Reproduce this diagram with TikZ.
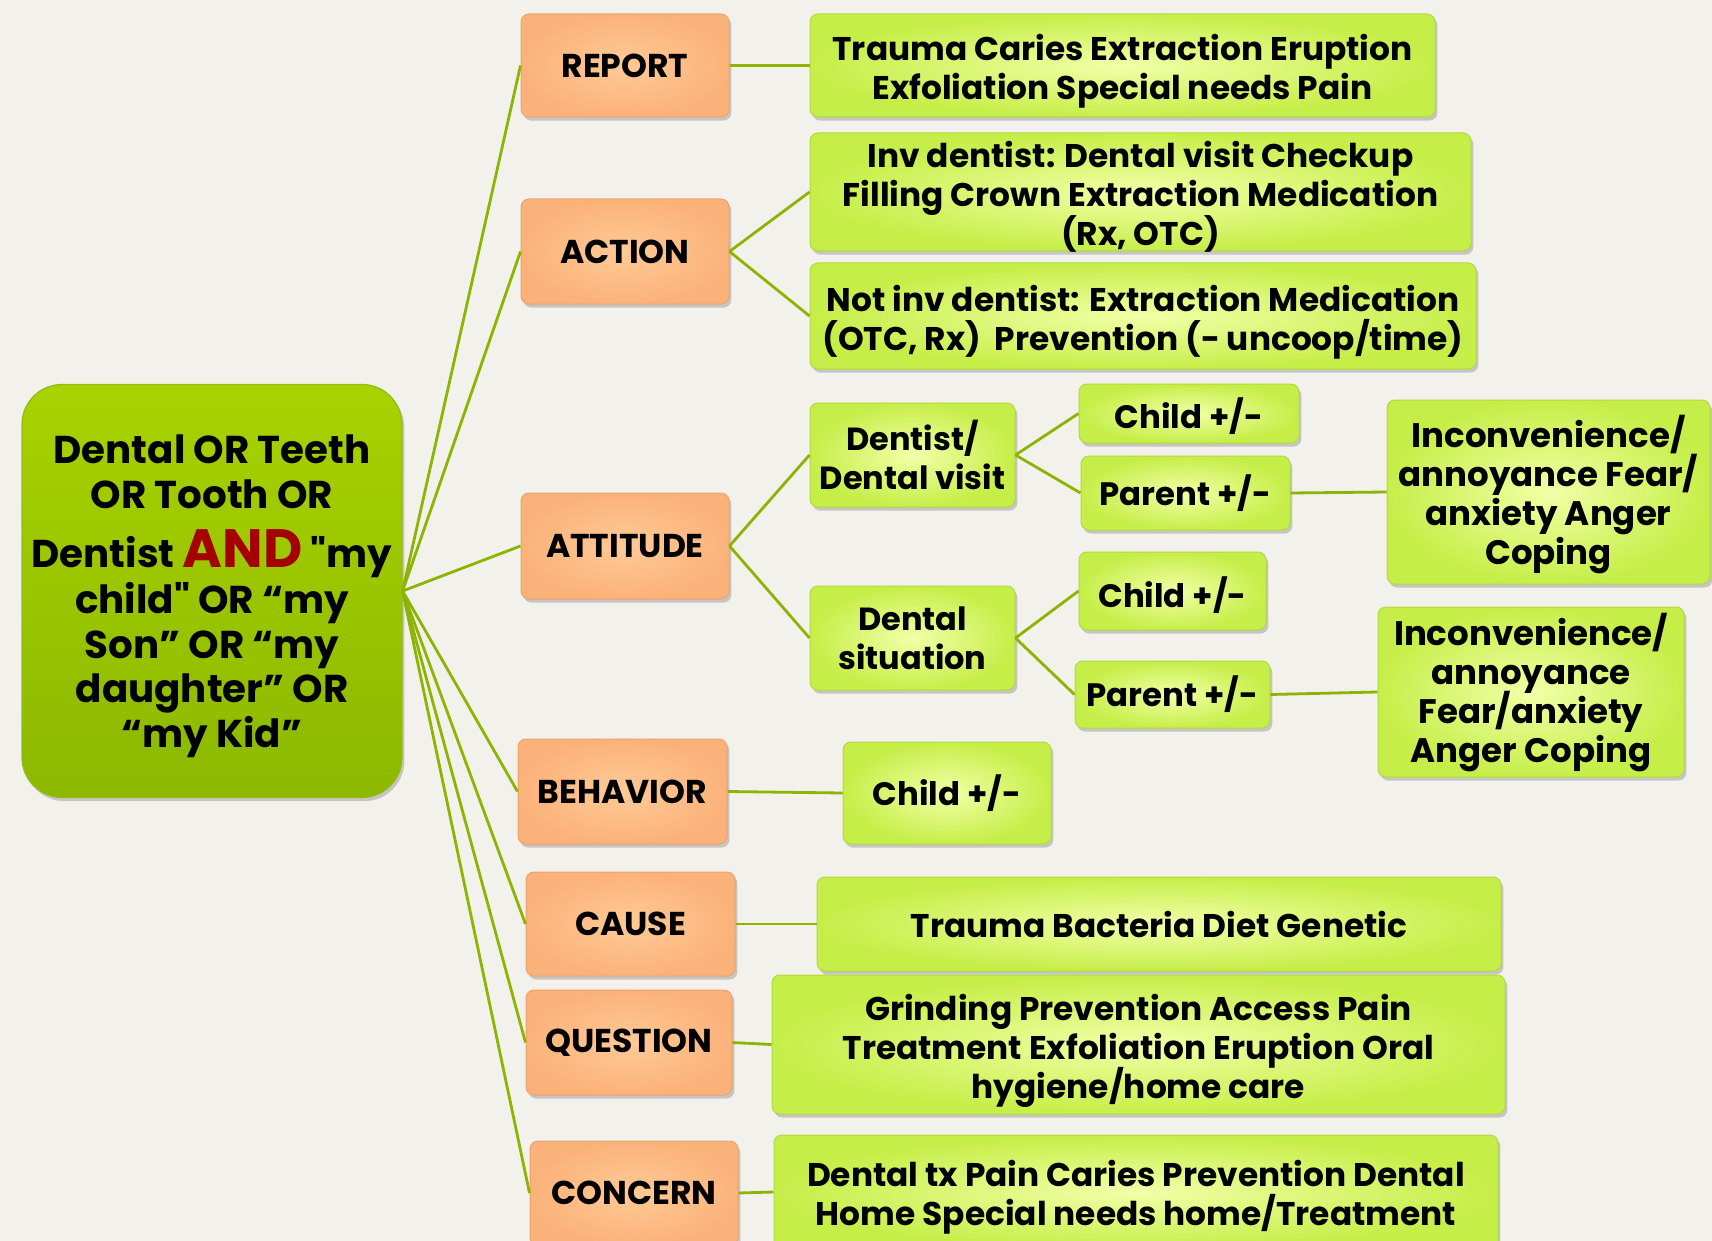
\documentclass[tikz,border=0pt]{standalone}
\usepackage{fontspec}
\setmainfont{Poppins}[Ligatures=TeXOff]
\usetikzlibrary{shadows}
\definecolor{bgc}{HTML}{F3F1EC}
\definecolor{orin}{HTML}{FFCA96}
\definecolor{orout}{HTML}{FBB27A}
\definecolor{oredge}{HTML}{E9A56C}
\definecolor{gin}{HTML}{F2FFA8}
\definecolor{gout}{HTML}{C6EE48}
\definecolor{gedge}{HTML}{B2D93E}
\definecolor{rtop}{HTML}{A8D200}
\definecolor{rbot}{HTML}{8CB800}
\definecolor{redge}{HTML}{93BD10}
\definecolor{conc}{HTML}{8CB400}
\definecolor{andred}{HTML}{A50000}
\begin{document}
\setlength{\lineskiplimit}{-20pt}
\begin{tikzpicture}[x=0.5pt,y=-0.5pt,
  shad/.style={drop shadow={shadow xshift=1.2pt,shadow yshift=-1.8pt,opacity=0.35,fill=black!55}},
  orangebox/.style={shad,draw=oredge,line width=0.5pt,rounded corners=4pt,inner color=orin,outer color=orout,
    inner sep=0pt,align=center,font=\bfseries\fontsize{16.5}{19.5}\selectfont},
  greenbox/.style={shad,draw=gedge,line width=0.5pt,rounded corners=4pt,inner color=gin,outer color=gout,
    inner sep=0pt,align=center,font=\bfseries\fontsize{16}{19.5}\selectfont},
  wide/.style={font=\bfseries\fontsize{16.4}{19.5}\selectfont},
  big/.style={font=\bfseries\fontsize{17}{19.5}\selectfont},
  small/.style={font=\bfseries\fontsize{16.2}{19.5}\selectfont},
  gtext/.style={inner sep=0pt,align=center,font=\bfseries\fontsize{16.4}{19.5}\selectfont},
  rootbox/.style={shad,draw=redge,line width=0.6pt,rounded corners=20pt,top color=rtop,bottom color=rbot},
  roottext/.style={inner sep=0pt,align=center,font=\bfseries\fontsize{19.4}{22.4}\selectfont},
  conn/.style={draw=conc,line width=1.4pt}]
\useasboundingbox (0,0) rectangle (1712,1241);
\clip (0,0) rectangle (1712,1241);
\fill[bgc] (0,0) rectangle (1712,1241);

% root
\node[rootbox,minimum width=190pt,minimum height=206.5pt] (root) at (212,591) {};
\node[roottext] (roott) at ([yshift=-2.8pt]root.center)
  {Dental OR Teeth\\OR Tooth OR\\[7pt]Dentist {\color{andred}\fontsize{27}{22.4}\selectfont AND} "my\\[0.5pt]child" OR “my\\Son” OR “my\\daughter” OR\\“my Kid”};

% orange level
\node[orangebox,minimum width=104pt,minimum height=51.5pt] (report) at (625,65.5) {REPORT};
\node[orangebox,minimum width=104pt,minimum height=52.5pt] (action) at (625,251.5) {ACTION};
\node[orangebox,minimum width=104pt,minimum height=53pt] (attitude) at (625,546) {ATTITUDE};
\node[orangebox,minimum width=104.5pt,minimum height=52.5pt] (behavior) at (622.5,791.5) {BEHAVIOR};
\node[orangebox,minimum width=104.5pt,minimum height=52pt] (cause) at (630.5,924) {CAUSE};
\node[orangebox,minimum width=103pt,minimum height=52.5pt] (question) at (629,1042.5) {QUESTION};
\node[orangebox,minimum width=104pt,minimum height=52pt] (concern) at (634,1193) {CONCERN};

% green level
\node[greenbox,minimum width=312.5pt,minimum height=51.5pt] (rep) at (1122.5,65.5) {};
\node[gtext] (rept) at ([yshift=-2.7pt]rep.center)
  {Trauma Caries Extraction Eruption\\Exfoliation Special needs Pain};
\node[greenbox,minimum width=330.5pt,minimum height=59pt] (inv) at (1140.5,192) {};
\node[gtext] (invt) at ([yshift=-2.2pt]inv.center)
  {Inv dentist: Dental visit Checkup\\Filling Crown Extraction Medication\\(Rx, OTC)};
\node[greenbox,minimum width=333pt,minimum height=53pt] (notinv) at (1143,316) {};
\node[gtext] (notinvt) at ([yshift=-3.2pt]notinv.center)
  {Not inv dentist: Extraction Medication\\(OTC, Rx)\ \ Prevention (- uncoop/time)};
\node[greenbox,minimum width=102.5pt,minimum height=52pt] (dv) at (912.5,455)
  {Dentist/\\Dental visit};
\node[greenbox,minimum width=110pt,minimum height=29.5pt] (c1) at (1189,413.5) {};
\node[gtext,small] (c1t) at ([yshift=-1.4pt]c1.center) {Child +/-};
\node[greenbox,small,minimum width=104.5pt,minimum height=37pt] (p1) at (1185.5,493) {Parent +/-};
\node[greenbox,minimum width=161.5pt,minimum height=92pt] (inc1) at (1548.5,492) {};
\node[gtext,big] (inc1t) at ([yshift=-1.5pt]inc1.center)
  {Inconvenience/\\annoyance Fear/\\anxiety Anger\\Coping};
\node[greenbox,minimum width=102.5pt,minimum height=52pt] (ds) at (912.5,638)
  {Dental\\situation};
\node[greenbox,minimum width=93.5pt,minimum height=39pt] (c2) at (1172.5,591) {};
\node[gtext,small] (c2t) at ([yshift=-2pt]c2.center) {Child +/-};
\node[greenbox,small,minimum width=97.5pt,minimum height=33.5pt] (p2) at (1172.5,694.5) {Parent +/-};
\node[greenbox,minimum width=153pt,minimum height=85pt] (inc2) at (1531,692) {};
\node[gtext,big] (inc2t) at ([yshift=-0.5pt]inc2.center)
  {Inconvenience/\\annoyance\\Fear/anxiety\\Anger Coping};
\node[greenbox,small,minimum width=104pt,minimum height=51pt] (bc) at (947,793) {Child +/-};
\node[greenbox,wide,minimum width=342pt,minimum height=47pt] (causet) at (1159,924)
  {Trauma Bacteria Diet Genetic};
\node[greenbox,minimum width=366.5pt,minimum height=69.5pt] (quest) at (1138.5,1044.5) {};
\node[gtext] (questt) at ([yshift=-3pt]quest.center)
  {Grinding Prevention Access Pain\\Treatment Exfoliation Eruption Oral\\hygiene/home care};
\node[greenbox,minimum width=362pt,minimum height=57pt] (conct) at (1136,1192) {};
\node[gtext] (conctt) at ([yshift=-2.5pt]conct.center)
  {Dental tx Pain Caries Prevention Dental\\Home Special needs home/Treatment};

% connectors
\foreach \n in {report,action,attitude,behavior,cause,question,concern}
  \draw[conn] (root.east) -- (\n.west);
\draw[conn] (report.east) -- (rep.west);
\draw[conn] (action.east) -- (inv.west);
\draw[conn] (action.east) -- (notinv.west);
\draw[conn] (attitude.east) -- (dv.west);
\draw[conn] (attitude.east) -- (ds.west);
\draw[conn] (dv.east) -- (c1.west);
\draw[conn] (dv.east) -- (p1.west);
\draw[conn] (p1.east) -- (inc1.west);
\draw[conn] (ds.east) -- (c2.west);
\draw[conn] (ds.east) -- (p2.west);
\draw[conn] (p2.east) -- (inc2.west);
\draw[conn] (behavior.east) -- (bc.west);
\draw[conn] (cause.east) -- (causet.west);
\draw[conn] (question.east) -- (quest.west);
\draw[conn] (concern.east) -- (conct.west);
\end{tikzpicture}
\end{document}
